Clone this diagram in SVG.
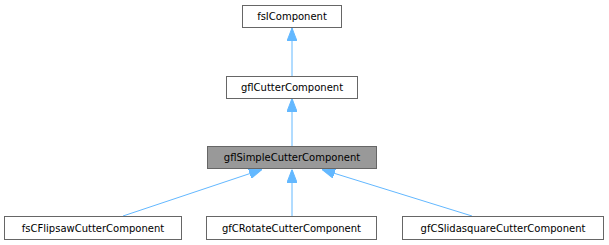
<svg xmlns="http://www.w3.org/2000/svg" width="609" height="245" viewBox="0 0 609 245">
<style>
.box{fill:#ffffff;stroke:#666666;stroke-width:1}
.hl{fill:#999999;stroke:#666666;stroke-width:1}
text{font-family:"DejaVu Sans","Liberation Sans",sans-serif;font-size:10px;fill:#000000;text-anchor:middle}
.edge{stroke:#63b8ff;stroke-width:1;fill:none}
</style>
<defs>
<marker id="ah" viewBox="0 0 13 10" refX="13" refY="5" markerWidth="13" markerHeight="10" markerUnits="userSpaceOnUse" orient="auto">
<path d="M0,0 L13,5 L0,10 Z" fill="#63b8ff" stroke="#63b8ff" stroke-width="1"/>
</marker>
</defs>
<g id="edges">
<path class="edge" d="M292,76 L292,28" marker-end="url(#ah)"/>
<path class="edge" d="M292,146 L292,98.5" marker-end="url(#ah)"/>
<path class="edge" d="M123,216 L262,169.5" marker-end="url(#ah)"/>
<path class="edge" d="M292,216 L292,169.5" marker-end="url(#ah)"/>
<path class="edge" d="M472,216 L322,169.5" marker-end="url(#ah)"/>
</g>
<g id="fsIComponent">
<rect class="box" x="242.5" y="5.5" width="99" height="22"/>
<text x="292" y="20">fsIComponent</text>
</g>
<g id="gflCutterComponent">
<rect class="box" x="226.5" y="76.5" width="131" height="22"/>
<text x="292" y="91">gflCutterComponent</text>
</g>
<g id="gflSimpleCutterComponent">
<rect class="hl" x="207.5" y="146.5" width="169" height="22"/>
<text x="292" y="161">gflSimpleCutterComponent</text>
</g>
<g id="fsCFlipsawCutterComponent">
<rect class="box" x="4.5" y="216.5" width="177" height="23"/>
<text x="93" y="231.5">fsCFlipsawCutterComponent</text>
</g>
<g id="gfCRotateCutterComponent">
<rect class="box" x="206.5" y="216.5" width="170" height="23"/>
<text x="291.5" y="231.5">gfCRotateCutterComponent</text>
</g>
<g id="gfCSlidasquareCutterComponent">
<rect class="box" x="402.5" y="216.5" width="201" height="23"/>
<text x="503" y="231.5">gfCSlidasquareCutterComponent</text>
</g>
</svg>
